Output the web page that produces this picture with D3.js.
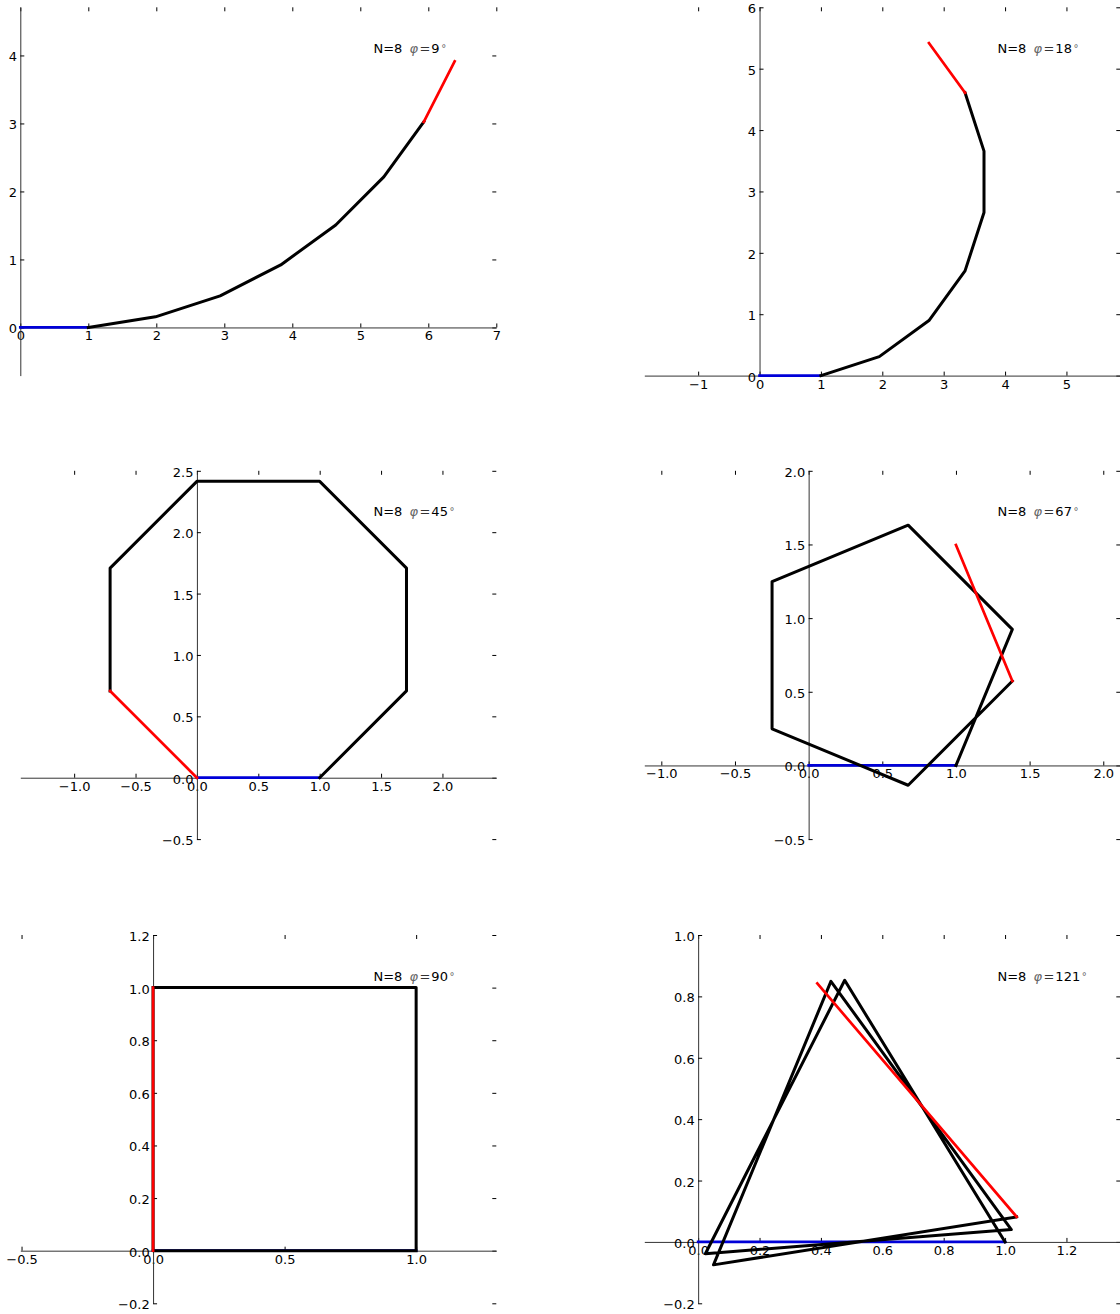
<!DOCTYPE html>
<html>
<head>
<meta charset="utf-8">
<script src="https://cdn.jsdelivr.net/npm/d3@7"></script>
<style>
  body { margin: 0; background: #fff; }
  svg text { font-family: "DejaVu Sans", sans-serif; }
</style>
</head>
<body>
<svg id="fig" width="1120" height="1314"></svg>
<script>
// Unit-step walks: N segments, each turning by the angle in the label.
const segmentCount = 8;
const angleLabels = ["9", "18", "45", "67", "90", "121"];

// Vertex coordinates of each walk (first segment blue, last segment red).
const walkX = [
  [0, 1, 1.9877, 2.9388, 3.8298, 4.6388, 5.3459, 5.9337, 6.3877],
  [0, 1, 1.9511, 2.7601, 3.3479, 3.6569, 3.6569, 3.3479, 2.7601],
  [0, 1, 1.7071, 1.7071, 1, 0, -0.7071, -0.7071, 0],
  [0, 1, 1.3827, 0.6756, -0.2483, -0.2483, 0.6756, 1.3827, 1.0],
  [0, 1, 1, 0, 0, 1, 1, 0, 0],
  [0, 1, 0.4775, 0.0235, 1.0204, 0.4326, 0.0500, 1.0377, 0.3882]
];
const walkY = [
  [0, 0, 0.1564, 0.4654, 0.9194, 1.5072, 2.2143, 3.0234, 3.9144],
  [0, 0, 0.3090, 0.8968, 1.7058, 2.6569, 3.6569, 4.6080, 5.4170],
  [0, 0, 0.7071, 1.7071, 2.4142, 2.4142, 1.7071, 0.7071, 0],
  [0, 0, 0.9239, 1.6310, 1.2483, 0.2483, -0.1344, 0.5727, 1.4966],
  [0, 0, 1, 1, 0, 0, 1, 1, 0],
  [0, 0, 0.8526, -0.0384, 0.0401, 0.8491, -0.0748, 0.0817, 0.8421]
];

// Base axis limits before the equal-aspect adjustment.
const xLimits = [[0, 7], [0, 4], [-1, 2], [-0.5, 1.5], [-0.2, 1.0], [0, 1.2]];
const yLimits = [[0, 4], [0, 6], [-0.5, 2.5], [-0.5, 2.0], [-0.2, 1.2], [-0.2, 1.0]];

// Tick labels per panel.
const xTickLabels = [
  ["0", "1", "2", "3", "4", "5", "6", "7"],
  ["−1", "0", "1", "2", "3", "4", "5"],
  ["−1.0", "−0.5", "0.0", "0.5", "1.0", "1.5", "2.0"],
  ["−1.0", "−0.5", "0.0", "0.5", "1.0", "1.5", "2.0"],
  ["−0.5", "0.0", "0.5", "1.0"],
  ["0.0", "0.2", "0.4", "0.6", "0.8", "1.0", "1.2"]
];
const yTickLabels = [
  ["0", "1", "2", "3", "4"],
  ["0", "1", "2", "3", "4", "5", "6"],
  ["−0.5", "0.0", "0.5", "1.0", "1.5", "2.0", "2.5"],
  ["−0.5", "0.0", "0.5", "1.0", "1.5", "2.0"],
  ["−0.2", "0.0", "0.2", "0.4", "0.6", "0.8", "1.0", "1.2"],
  ["−0.2", "0.0", "0.2", "0.4", "0.6", "0.8", "1.0"]
];

const toNum = s => +s.replace("−", "-");

// Layout of the 3x2 grid of axes.
const W = 476, H = 368.3;
const colLeft = [20.3, 644.3];
const rowTop = [7.3, 470.8, 935];
const FONT = 13;
const TICK = 4;

const svg = d3.select("#fig");

angleLabels.forEach((label, i) => {
  const left = colLeft[i % 2];
  const top = rowTop[Math.floor(i / 2)];

  // Equal aspect: widen whichever range is short so units per pixel match.
  const [x0, x1] = xLimits[i], [y0, y1] = yLimits[i];
  const upp = Math.max((x1 - x0) / W, (y1 - y0) / H);
  const cx = (x0 + x1) / 2, cy = (y0 + y1) / 2;
  const x = d3.scaleLinear().domain([cx - upp * W / 2, cx + upp * W / 2]).range([left, left + W]);
  const y = d3.scaleLinear().domain([cy - upp * H / 2, cy + upp * H / 2]).range([top + H, top]);

  const xt = xTickLabels[i].map(toNum);
  const yt = yTickLabels[i].map(toNum);

  const g = svg.append("g").attr("class", "panel");

  // Top and right tick marks (no spine lines).
  const topAx = g.append("g").attr("transform", `translate(0,${top})`)
    .call(d3.axisTop(x).tickValues(xt).tickSizeInner(-TICK).tickSizeOuter(0).tickFormat(() => ""));
  topAx.select(".domain").remove();
  const rightAx = g.append("g").attr("transform", `translate(${left + W},0)`)
    .call(d3.axisRight(y).tickValues(yt).tickSizeInner(-TICK).tickSizeOuter(0).tickFormat(() => ""));
  rightAx.select(".domain").remove();

  // Spines through the origin.
  const bottomAx = g.append("g").attr("transform", `translate(0,${y(0)})`)
    .call(d3.axisBottom(x).tickValues(xt).tickSizeInner(-TICK).tickSizeOuter(0)
      .tickPadding(3.8).tickFormat((d, k) => xTickLabels[i][k]));
  const leftAx = g.append("g").attr("transform", `translate(${x(0)},0)`)
    .call(d3.axisLeft(y).tickValues(yt).tickSizeInner(-TICK).tickSizeOuter(0)
      .tickPadding(3.4).tickFormat((d, k) => yTickLabels[i][k]));
  leftAx.selectAll("text").attr("dy", "0.42em");

  g.selectAll("g").attr("font-family", null).attr("font-size", null);
  g.selectAll(".tick line").attr("stroke", "#000").attr("stroke-width", 1);
  g.selectAll(".domain").attr("stroke", "#333").attr("stroke-width", 1);
  g.selectAll(".tick text").attr("font-size", FONT).attr("fill", "#000");

  // Walk segments: first (blue), middle (black), last (red).
  const pts = walkX[i].map((vx, k) => [vx, walkY[i][k]]);
  const line = d3.line().x(d => x(d[0])).y(d => y(d[1]));
  const parts = [
    { p: pts.slice(0, 2), c: "#0000d8", w: 2.7 },
    { p: pts.slice(1, segmentCount), c: "#000000", w: 3 },
    { p: pts.slice(segmentCount - 1), c: "#ff0000", w: 2.7 }
  ];
  g.selectAll("path.walk").data(parts).join("path")
    .attr("class", "walk")
    .attr("d", d => line(d.p))
    .attr("fill", "none")
    .attr("stroke", d => d.c)
    .attr("stroke-width", d => d.w)
    .attr("stroke-linejoin", "round")
    .attr("stroke-linecap", "square");

  // Annotation "N=8  φ=…°"
  const t = g.append("text")
    .attr("x", left + 0.742 * W)
    .attr("y", top + (1 - 0.876) * H)
    .attr("font-size", FONT)
    .attr("fill", "#000");
  t.append("tspan").text(`N=${segmentCount}`);
  t.append("tspan").attr("dx", 7).attr("font-style", "italic").attr("fill", "#666").text("φ");
  t.append("tspan").attr("dx", 1.5).attr("fill", "#333").text("=");
  t.append("tspan").attr("dx", 1).text(label);
  t.append("tspan").attr("dx", 1.5).attr("fill", "#666").attr("font-size", 10).attr("dy", -1).text("°");
});
</script>
</body>
</html>
